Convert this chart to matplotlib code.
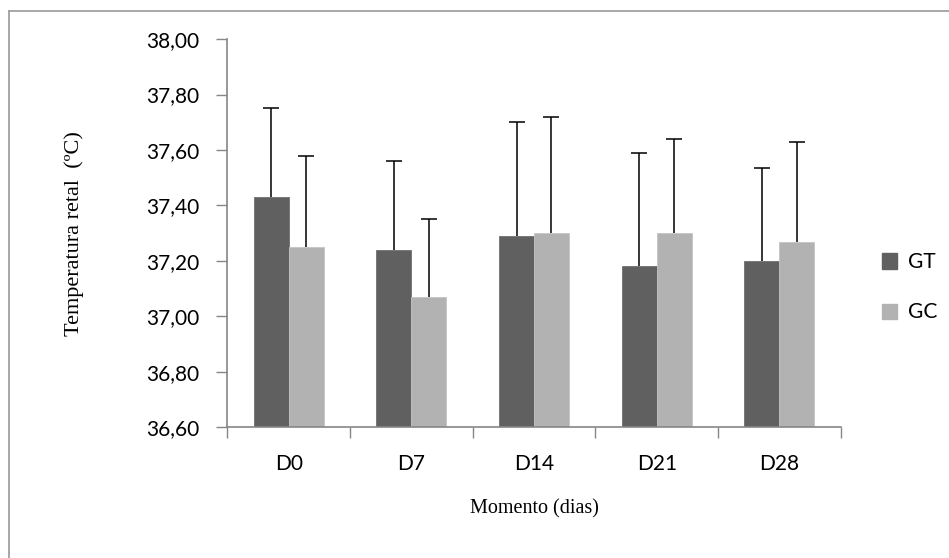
import numpy as np
import matplotlib.pyplot as plt
from matplotlib.lines import Line2D
from matplotlib.patches import Patch

dias = ['D0', 'D7', 'D14', 'D21', 'D28']
gt = [37.43, 37.24, 37.29, 37.18, 37.20]
gc = [37.25, 37.07, 37.30, 37.30, 37.27]
gt_err = [0.32, 0.32, 0.41, 0.41, 0.335]
gc_err = [0.33, 0.28, 0.42, 0.34, 0.36]
yticks = [36.6, 36.8, 37.0, 37.2, 37.4, 37.6, 37.8, 38.0]

cor_gt = '#606060'
cor_gc = '#b2b2b2'
cinza = '#868686'

fig = plt.figure(figsize=(9.49, 5.58), dpi=100)
ax = fig.add_axes([0.2395, 0.2342, 0.6464, 0.6958])

x = np.arange(len(dias))
w = 0.285
zeros = [0] * len(dias)
ax.bar(x - w / 2, gt, w, bottom=0, color=cor_gt, edgecolor='#707070', linewidth=0.6)
ax.bar(x + w / 2, gc, w, bottom=0, color=cor_gc, edgecolor='#c4c4c4', linewidth=0.6)

# barras de erro so para cima
for pos, val, err in [(x - w / 2, gt, gt_err), (x + w / 2, gc, gc_err)]:
    eb = ax.errorbar(pos, val, yerr=[zeros, err], fmt='none', ecolor='black',
                     elinewidth=1.1, capsize=5.5, capthick=1.1)
    eb[1][0].set_visible(False)

ax.set_xlim(-0.5, len(dias) - 0.5)
ax.set_ylim(36.6, 38.0)
ax.set_yticks(yticks)
ax.set_yticklabels([f'{v:.2f}'.replace('.', ',') for v in yticks], family='Lato', fontsize=15)
ax.set_xticks(x)
ax.set_xticklabels(dias, family='Lato', fontsize=15)
ax.set_xticks(np.arange(-0.5, len(dias)), minor=True)
ax.tick_params(axis='x', which='major', length=0, pad=19)
ax.tick_params(axis='x', which='minor', length=8, color=cinza, width=1)
ax.tick_params(axis='y', length=8, color=cinza, width=1, pad=12)

for s in ['top', 'right']:
    ax.spines[s].set_visible(False)
for s in ['left', 'bottom']:
    ax.spines[s].set_color(cinza)
    ax.spines[s].set_linewidth(1.2)

ax.set_ylabel('Temperatura retal  (ºC)', family='Liberation Serif', fontsize=16)
ax.set_xlabel('Momento (dias)', family='Liberation Serif', fontsize=14.5)
ax.yaxis.set_label_coords(-0.234, 0.5)
ax.xaxis.set_label_coords(0.5, -0.185)

handles = [Patch(facecolor=cor_gt, edgecolor=cor_gt), Patch(facecolor=cor_gc, edgecolor=cor_gc)]
fig.legend(handles, ['GT', 'GC'], loc='center left', bbox_to_anchor=(0.929, 0.485),
           frameon=False, prop={'family': 'Lato', 'size': 15}, handlelength=0.75,
           handleheight=0.75, handletextpad=0.5, labelspacing=1.45, borderpad=0,
           borderaxespad=0)

# moldura do grafico (so topo e esquerda visiveis)
fig.add_artist(Line2D([9 / 949, 1], [1 - 11 / 558, 1 - 11 / 558], transform=fig.transFigure,
                      color='#a0a0a0', linewidth=1.3))
fig.add_artist(Line2D([9 / 949, 9 / 949], [0, 1 - 11 / 558], transform=fig.transFigure,
                      color='#a0a0a0', linewidth=1.3))

fig.savefig('out.png', dpi=100)
